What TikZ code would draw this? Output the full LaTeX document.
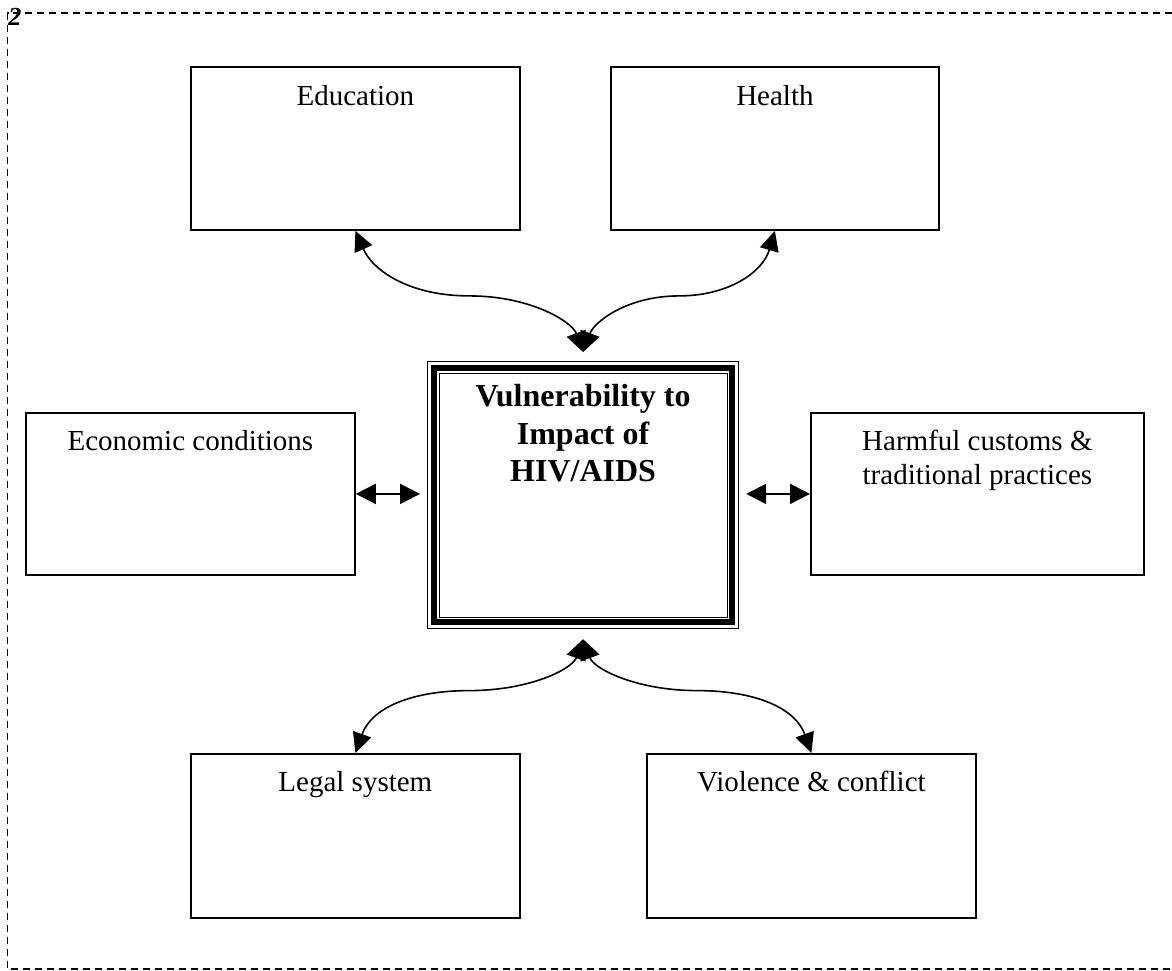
\documentclass[tikz,border=0pt]{standalone}
\usepackage{fontspec}
\setmainfont{Liberation Serif}
\usetikzlibrary{arrows.meta, calc}
\newcommand{\boxlabel}[4]{\parbox[t][#2][t]{#1}{\centering\rule{0pt}{#3}#4}}

\begin{document}
\begin{tikzpicture}[
  x=0.5pt, y=-0.5pt,
  factor/.style={draw, line width=0.9pt, inner sep=0pt, anchor=north west, font=\fontsize{14.5}{16.7}\selectfont},
  core/.style={draw, line width=0.6pt, inner sep=0pt, anchor=north west, font=\bfseries\fontsize{16}{18.75}\selectfont},
  link/.style={{Triangle[length=10pt,width=10pt]}-{Triangle[length=10pt,width=9.5pt]}, line width=0.8pt},
  pair/.style={{Triangle[length=10pt,width=10pt]}-{Triangle[length=10pt,width=10pt]}, line width=1pt},
  frame/.style={dash pattern=on 3.5pt off 2.5pt, line width=0.6pt}
]
\useasboundingbox (0,0) rectangle (1172,970);

% Outer dashed frame
\draw[frame] (1172,13) -- (7.5,13) -- (7.5,969) -- (1172,969);
\node[anchor=base west, inner sep=0pt, font=\bfseries\itshape\fontsize{13}{15}\selectfont] (pagenum) at (8,25) {2};

% Centre box
\node[core] (vuln) at (427,361) {\boxlabel{155.5pt}{133.5pt}{22.6pt}{Vulnerability to\\Impact of\\HIV/AIDS}};
\draw[line width=3pt] ([shift={(3.5pt,-3.5pt)}]vuln.north west) rectangle ([shift={(-3.5pt,3.5pt)}]vuln.south east);
\draw[line width=0.5pt] ([shift={(6pt,-6pt)}]vuln.north west) rectangle ([shift={(-6pt,6pt)}]vuln.south east);

% Factor boxes
\node[factor] (edu) at (190,66) {\boxlabel{164.5pt}{81.5pt}{19.5pt}{Education}};
\node[factor] (health) at (610,66) {\boxlabel{164pt}{81.5pt}{19.5pt}{Health}};
\node[factor] (econ) at (25,412) {\boxlabel{164.5pt}{81pt}{19pt}{Economic conditions}};
\node[factor] (harm) at (810,412) {\boxlabel{166.5pt}{81pt}{19pt}{Harmful customs \&\\traditional practices}};
\node[factor] (legal) at (190,753) {\boxlabel{164.5pt}{82pt}{19pt}{Legal system}};
\node[factor] (viol) at (646,753) {\boxlabel{164.5pt}{82pt}{19pt}{Violence \& conflict}};

% Curved links
\coordinate (topTip) at ([yshift=4.5pt]vuln.north);
\coordinate (botTip) at ([yshift=-5pt]vuln.south);
\draw[link] (topTip) .. controls +(-11,-30) and +(62,0) .. ($(topTip)!.5!(edu.south)+(0,4.5)$) .. controls +(-58,0) and +(18,41) .. (edu.south);
\draw[link] (topTip) .. controls +(11,-30) and +(-52,0) .. ($(topTip)!.5!(health.south)+(0,4.5)$) .. controls +(50,0) and +(-12,41) .. (health.south);
\draw[link] (botTip) .. controls +(-11,30) and +(60,0) .. ($(botTip)!.5!(legal.north)+(0,-5.5)$) .. controls +(-58,0) and +(16,-45) .. (legal.north);
\draw[link] (botTip) .. controls +(11,30) and +(-60,0) .. ($(botTip)!.5!(viol.north)+(0,-5.5)$) .. controls +(58,0) and +(-16,-45) .. (viol.north);

% Side links
\draw[pair, shorten >=3.5pt] (econ.east) -- (econ.east -| vuln.west);
\draw[pair, shorten >=3.5pt] (harm.west) -- (harm.west -| vuln.east);

\end{tikzpicture}
\end{document}
